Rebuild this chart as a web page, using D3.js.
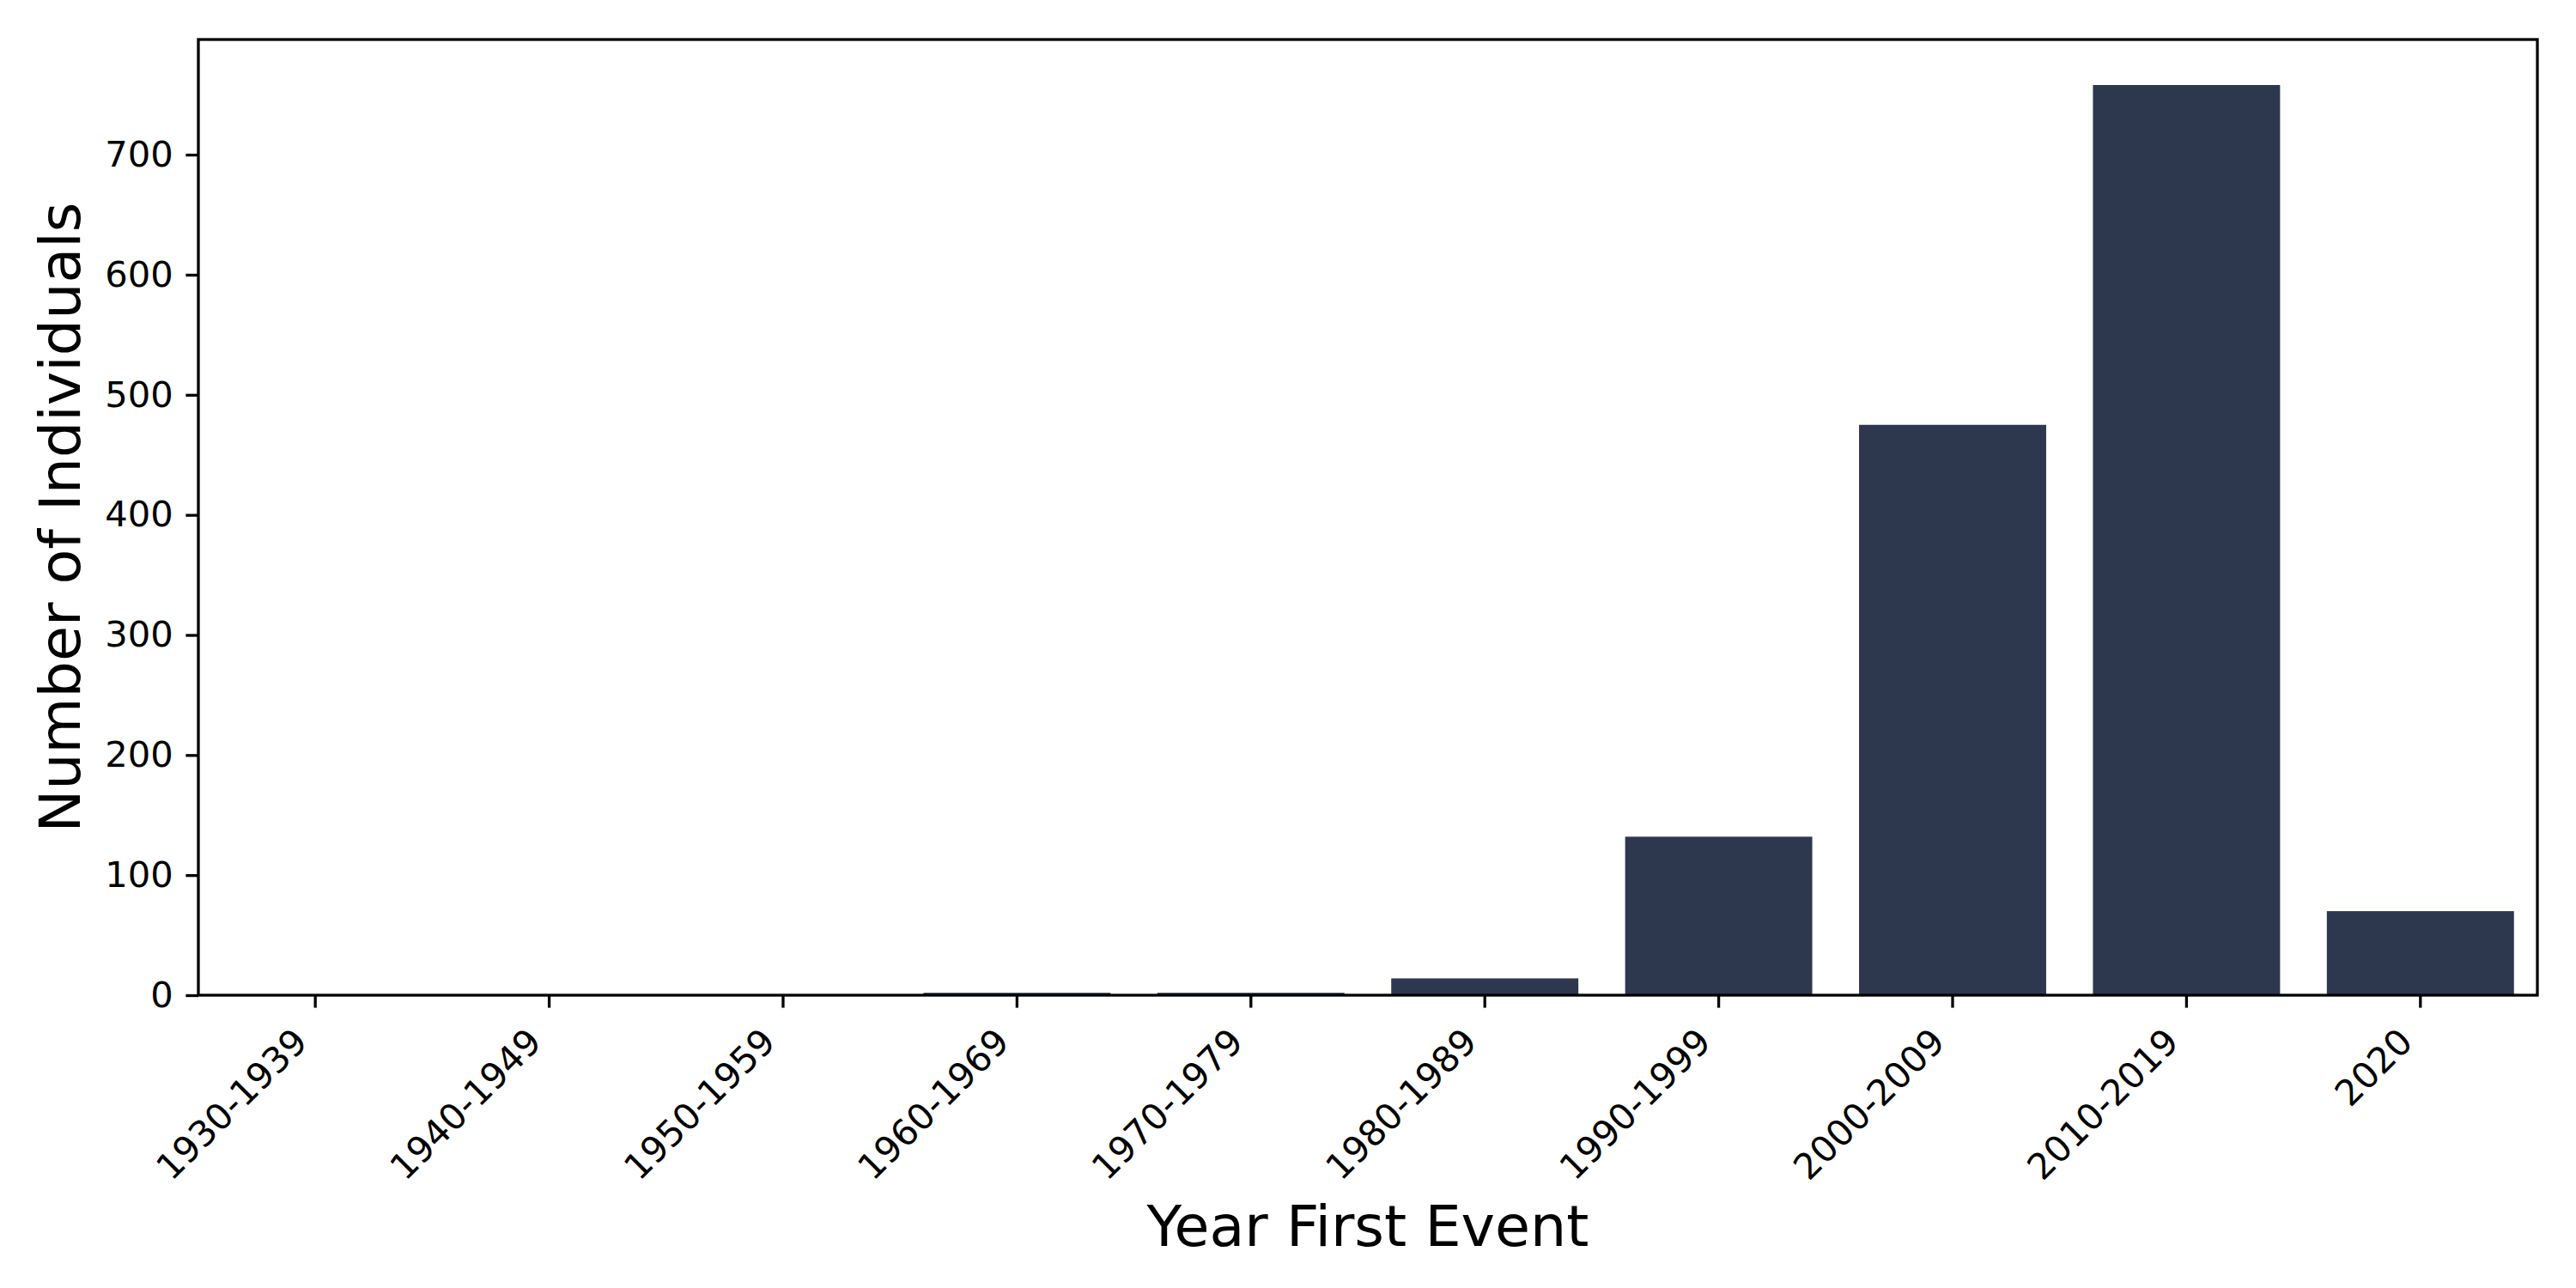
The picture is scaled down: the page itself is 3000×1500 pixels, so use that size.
<!DOCTYPE html>
<html>
<head>
<meta charset="utf-8">
<script src="https://cdn.jsdelivr.net/npm/d3@7"></script>
<style>
  html, body { margin: 0; padding: 0; background: #ffffff; }
  svg { display: block; font-family: "DejaVu Sans", sans-serif; }
</style>
</head>
<body>
<svg id="chart" width="3000" height="1500"></svg>
<script>
const categories = ["1930-1939", "1940-1949", "1950-1959", "1960-1969", "1970-1979",
                    "1980-1989", "1990-1999", "2000-2009", "2010-2019", "2020"];
const counts = [0, 0, 0, 2, 2, 14, 132, 475, 758, 70];
const yTicks = [0, 100, 200, 300, 400, 500, 600, 700];
const xLabel = "Year First Event";
const yLabel = "Number of Individuals";

const W = 3000, H = 1500;
const margin = { left: 231, right: 3000 - 2955, top: 46, bottom: 1500 - 1159 };
const innerW = W - margin.left - margin.right;
const innerH = H - margin.top - margin.bottom;

const svg = d3.select("#chart");
const g = svg.append("g").attr("transform", `translate(${margin.left},${margin.top})`);

const x = d3.scaleBand().domain(categories).range([0, innerW]).paddingInner(0).paddingOuter(0);
const yMax = d3.max(counts) * 1.05;
const y = d3.scaleLinear().domain([0, yMax]).range([innerH, 0]);

const barColor = "#2d384f";
const barW = x.bandwidth() * 0.8;

g.selectAll("rect.bar")
  .data(categories.map((c, i) => ({ c, v: counts[i] })))
  .enter().append("rect")
  .attr("class", "bar")
  .attr("x", d => x(d.c) + (x.bandwidth() - barW) / 2)
  .attr("width", barW)
  .attr("y", d => y(d.v))
  .attr("height", d => innerH - y(d.v))
  .attr("fill", barColor);

const tickLen = 14.6, tickPad = 14.6, lw = 3.3, tickFont = 41.7;

// Y axis
const yAxis = d3.axisLeft(y).tickValues(yTicks).tickSize(tickLen).tickPadding(tickPad).tickSizeOuter(0);
const gy = g.append("g").call(yAxis);
gy.select(".domain").remove();
gy.selectAll(".tick line").attr("stroke", "#000").attr("stroke-width", lw);
gy.selectAll(".tick text").attr("font-size", tickFont).attr("fill", "#000")
  .attr("font-family", "DejaVu Sans");

// X axis
const xAxis = d3.axisBottom(x).tickSize(tickLen).tickPadding(0).tickSizeOuter(0);
const gx = g.append("g").attr("transform", `translate(0,${innerH})`).call(xAxis);
gx.select(".domain").remove();
gx.selectAll(".tick line").attr("stroke", "#000").attr("stroke-width", lw);
const hText = 1.164 * tickFont;
const off = 0.354 * hText;
gx.selectAll(".tick text")
  .attr("font-size", tickFont).attr("fill", "#000").attr("font-family", "DejaVu Sans")
  .attr("text-anchor", "end")
  .attr("x", null).attr("y", null).attr("dy", null)
  .attr("transform", `translate(${-off},${tickLen + tickPad + off}) rotate(-45)`)
  .attr("dy", "0.35em");

// Frame
g.append("rect")
  .attr("x", 0).attr("y", 0).attr("width", innerW).attr("height", innerH)
  .attr("fill", "none").attr("stroke", "#000").attr("stroke-width", lw);

// Axis labels
svg.append("text")
  .attr("x", margin.left + innerW / 2).attr("y", 1451)
  .attr("text-anchor", "middle")
  .attr("font-size", 66.7).attr("font-family", "DejaVu Sans").attr("fill", "#000")
  .text(xLabel);

svg.append("text")
  .attr("transform", `translate(93,${margin.top + innerH / 2}) rotate(-90)`)
  .attr("text-anchor", "middle")
  .attr("font-size", 66.7).attr("font-family", "DejaVu Sans").attr("fill", "#000")
  .text(yLabel);
</script>
</body>
</html>
